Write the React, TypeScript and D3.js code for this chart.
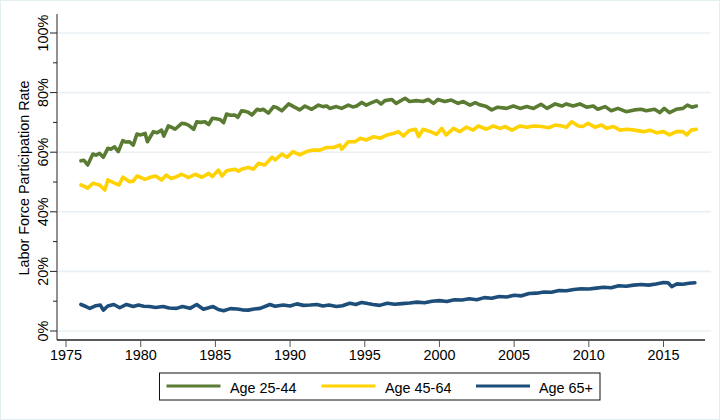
import React from "react";
import * as d3 from "d3";

type Pt = [number, number];

const xTicks = [1975, 1980, 1985, 1990, 1995, 2000, 2005, 2010, 2015];
const yMajor = [0, 20, 40, 60, 80, 100];
const yMinor = [10, 30, 50, 70, 90];
const seriesNames = ["Age 25-44", "Age 45-64", "Age 65+"];
const seriesColors = ["#5a7b32", "#ffd200", "#1d4e7a"];

const age2544: Pt[] = [
  [1976.0, 57.1], [1976.2, 57.3], [1976.45, 55.7], [1976.8, 59.4], [1977.0, 59.0], [1977.25, 59.6],
  [1977.5, 58.3], [1977.8, 61.3], [1978.0, 61.0], [1978.25, 61.8], [1978.5, 60.2], [1978.8, 63.9],
  [1979.0, 63.4], [1979.25, 63.5], [1979.5, 62.4], [1979.75, 66.1], [1980.0, 65.8], [1980.3, 66.3],
  [1980.45, 63.5], [1980.85, 66.9], [1981.1, 66.5], [1981.4, 67.4], [1981.55, 65.4], [1981.85, 68.8],
  [1982.1, 68.3], [1982.3, 67.7], [1982.75, 69.7], [1983.0, 69.5], [1983.2, 69.1], [1983.55, 67.7],
  [1983.75, 70.2], [1984.0, 70.0], [1984.3, 70.2], [1984.55, 69.3], [1984.8, 71.4], [1985.05, 71.2],
  [1985.3, 71.0], [1985.55, 69.9], [1985.75, 72.8], [1986.0, 72.4], [1986.3, 72.5], [1986.5, 71.7],
  [1986.75, 73.9], [1987.0, 73.7], [1987.2, 73.4], [1987.45, 72.5], [1987.8, 74.4], [1988.0, 74.1],
  [1988.2, 74.4], [1988.55, 73.1], [1988.9, 75.3], [1989.1, 75.0], [1989.45, 73.9], [1989.9, 76.2],
  [1990.3, 75.1], [1990.65, 74.2], [1991.0, 75.5], [1991.45, 74.4], [1991.9, 75.8], [1992.2, 75.3],
  [1992.45, 75.5], [1992.65, 74.7], [1993.1, 75.3], [1993.45, 74.7], [1993.9, 75.8], [1994.2, 75.2],
  [1994.45, 75.5], [1994.8, 76.7], [1995.1, 75.8], [1995.35, 76.4], [1995.8, 77.3], [1996.1, 76.2],
  [1996.35, 77.3], [1996.8, 77.7], [1997.1, 76.4], [1997.7, 78.1], [1998.0, 77.0], [1998.45, 77.3],
  [1998.9, 77.0], [1999.25, 77.7], [1999.6, 76.4], [1999.9, 77.7], [2000.35, 77.0], [2000.8, 77.5],
  [2001.25, 76.4], [2001.6, 77.0], [2002.05, 75.8], [2002.4, 76.6], [2002.7, 75.9], [2003.15, 75.3],
  [2003.5, 74.2], [2003.9, 75.1], [2004.5, 74.7], [2004.95, 75.5], [2005.4, 74.7], [2005.85, 75.3],
  [2006.3, 74.7], [2006.8, 76.1], [2007.2, 74.7], [2007.75, 76.2], [2008.2, 75.5], [2008.5, 76.2],
  [2008.95, 75.5], [2009.4, 76.2], [2009.85, 75.1], [2010.3, 75.5], [2010.6, 74.4], [2011.1, 75.3],
  [2011.5, 73.9], [2011.95, 74.7], [2012.5, 73.6], [2013.05, 74.2], [2013.5, 74.4], [2013.85, 73.9],
  [2014.4, 74.4], [2014.75, 73.3], [2015.05, 74.7], [2015.4, 73.3], [2015.85, 74.4], [2016.3, 74.7],
  [2016.6, 75.8], [2016.9, 75.1], [2017.2, 75.5],
];

const age4564: Pt[] = [
  [1976.0, 49.0], [1976.2, 48.6], [1976.45, 47.9], [1976.8, 49.6], [1977.0, 49.3], [1977.25, 49.0],
  [1977.6, 47.3], [1977.8, 50.7], [1978.0, 50.2], [1978.25, 49.6], [1978.55, 49.0], [1978.8, 51.6],
  [1979.0, 51.0], [1979.25, 50.1], [1979.5, 50.3], [1979.75, 52.0], [1980.0, 51.5], [1980.3, 50.9],
  [1980.65, 51.6], [1981.0, 52.0], [1981.4, 50.7], [1981.7, 52.3], [1982.05, 51.2], [1982.4, 51.8],
  [1982.75, 52.6], [1983.2, 51.5], [1983.65, 52.6], [1984.1, 51.6], [1984.55, 52.9], [1984.8, 51.8],
  [1985.2, 54.0], [1985.45, 52.0], [1985.75, 53.8], [1986.3, 54.3], [1986.55, 53.6], [1986.75, 54.3],
  [1987.2, 54.9], [1987.55, 54.3], [1987.9, 56.3], [1988.3, 55.7], [1988.8, 58.3], [1989.0, 57.4],
  [1989.45, 59.4], [1989.8, 58.3], [1990.2, 60.2], [1990.65, 59.1], [1991.1, 60.2], [1991.55, 60.7],
  [1992.0, 60.7], [1992.45, 61.6], [1992.9, 61.6], [1993.35, 62.4], [1993.45, 61.0], [1993.9, 63.5],
  [1994.35, 63.5], [1994.7, 64.7], [1995.1, 64.1], [1995.6, 65.2], [1996.05, 64.7], [1996.5, 65.8],
  [1996.9, 66.3], [1997.25, 66.9], [1997.6, 65.4], [1997.95, 67.2], [1998.4, 67.7], [1998.6, 65.2],
  [1998.9, 67.7], [1999.4, 66.9], [1999.8, 66.0], [2000.15, 68.0], [2000.45, 65.8], [2000.95, 68.0],
  [2001.35, 66.9], [2001.8, 68.4], [2002.25, 67.4], [2002.6, 68.8], [2003.15, 67.7], [2003.6, 68.8],
  [2004.05, 68.0], [2004.4, 68.6], [2004.85, 67.4], [2005.4, 68.8], [2005.85, 68.4], [2006.3, 68.8],
  [2006.85, 68.6], [2007.3, 68.2], [2007.75, 69.1], [2008.2, 68.8], [2008.5, 68.4], [2008.85, 70.2],
  [2009.3, 68.8], [2009.6, 68.6], [2009.95, 69.7], [2010.4, 68.4], [2010.85, 69.1], [2011.2, 68.0],
  [2011.65, 68.6], [2012.1, 67.4], [2012.55, 67.7], [2013.05, 67.4], [2013.65, 66.9], [2014.1, 67.4],
  [2014.55, 66.5], [2015.0, 66.9], [2015.4, 65.8], [2015.85, 66.9], [2016.3, 66.9], [2016.55, 65.8],
  [2016.85, 67.4], [2017.2, 67.7],
];

const age65: Pt[] = [
  [1976.0, 8.9], [1976.3, 8.3], [1976.6, 7.6], [1977.0, 8.5], [1977.3, 8.7], [1977.5, 7.0],
  [1977.8, 8.4], [1978.2, 8.9], [1978.6, 7.8], [1979.05, 8.9], [1979.5, 8.2], [1979.85, 8.7],
  [1980.2, 8.3], [1980.6, 8.2], [1981.0, 7.9], [1981.5, 8.2], [1981.9, 7.7], [1982.4, 7.6],
  [1982.8, 8.2], [1983.3, 7.6], [1983.75, 8.9], [1984.2, 7.3], [1984.85, 8.2], [1985.2, 7.2],
  [1985.55, 6.8], [1986.0, 7.5], [1986.45, 7.4], [1986.8, 7.1], [1987.2, 7.0], [1987.6, 7.4],
  [1988.0, 7.6], [1988.65, 8.9], [1989.0, 8.3], [1989.55, 8.7], [1990.0, 8.4], [1990.45, 9.1],
  [1990.9, 8.6], [1991.35, 8.7], [1991.8, 8.9], [1992.2, 8.4], [1992.6, 8.7], [1993.1, 8.2],
  [1993.5, 8.5], [1994.0, 9.3], [1994.4, 8.9], [1994.8, 9.6], [1995.2, 9.2], [1995.55, 8.9],
  [1996.0, 8.6], [1996.5, 9.3], [1997.0, 9.0], [1997.5, 9.2], [1998.0, 9.4], [1998.5, 9.7],
  [1999.0, 9.5], [1999.5, 10.0], [2000.0, 10.2], [2000.5, 9.9], [2001.0, 10.5], [2001.5, 10.4],
  [2002.0, 10.8], [2002.5, 10.5], [2003.0, 11.2], [2003.5, 11.0], [2004.0, 11.6], [2004.5, 11.4],
  [2005.0, 12.0], [2005.5, 11.8], [2006.0, 12.6], [2006.5, 12.7], [2007.0, 13.1], [2007.5, 13.0],
  [2008.0, 13.6], [2008.5, 13.5], [2009.0, 13.9], [2009.5, 14.2], [2010.0, 14.1], [2010.5, 14.4],
  [2011.0, 14.7], [2011.5, 14.5], [2012.0, 15.2], [2012.5, 15.0], [2013.0, 15.4], [2013.5, 15.6],
  [2014.0, 15.4], [2014.5, 15.8], [2015.0, 16.3], [2015.3, 16.2], [2015.55, 14.9], [2015.9, 15.8],
  [2016.3, 15.7], [2016.7, 16.0], [2017.1, 16.2],
];

const allSeries = [age2544, age4564, age65];

const W = 720;
const H = 420;
const FONT = "'Liberation Sans', Arial, Helvetica, sans-serif";
const FS = 14.4;

export default function App() {
  const x = d3.scaleLinear().domain([1975, 2015]).range([66, 663.5]);
  const y = d3.scaleLinear().domain([0, 100]).range([331, 33]);
  const axisLeft = 57;
  const axisBottom = 340;
  const line = d3
    .line<Pt>()
    .x((d) => x(d[0]))
    .y((d) => y(d[1]))
    .curve(d3.curveLinear);

  const legendItems = [
    { x0: 166.5, tx: 230 },
    { x0: 321.5, tx: 385 },
    { x0: 476, tx: 539 },
  ];

  return (
    <svg
      width={W}
      height={H}
      style={{ position: "absolute", left: 0, top: 0, background: "#fff" }}
      fontFamily={FONT}
    >
      <rect x={0.5} y={0.5} width={W - 1} height={H - 1} fill="#fff" stroke="#e4edf0" strokeWidth={1} />
      {/* grid */}
      {yMajor.map((v) => (
        <line key={"g" + v} x1={axisLeft} x2={711} y1={y(v)} y2={y(v)} stroke="#eaf0f3" strokeWidth={1.6} />
      ))}
      {/* series */}
      {allSeries.map((s, i) => (
        <path
          key={"s" + i}
          d={line(s) || ""}
          fill="none"
          stroke={seriesColors[i]}
          strokeWidth={3.6}
          strokeLinejoin="round"
          strokeLinecap="round"
        />
      ))}
      {/* y axis */}
      <line x1={axisLeft} x2={axisLeft} y1={14} y2={axisBottom} stroke="#777" strokeWidth={1.6} />
      {yMajor.map((v) => (
        <g key={"yt" + v}>
          <line x1={axisLeft - 7} x2={axisLeft} y1={y(v)} y2={y(v)} stroke="#222" strokeWidth={1} />
          <text
            transform={`translate(48,${y(v)}) rotate(-90)`}
            textAnchor="middle"
            fontSize={FS}
            fill="#000"
          >
            {v + "%"}
          </text>
        </g>
      ))}
      {yMinor.map((v) => (
        <line key={"ym" + v} x1={axisLeft - 4} x2={axisLeft} y1={y(v)} y2={y(v)} stroke="#222" strokeWidth={1} />
      ))}
      <text
        transform={`translate(28.5,${(y(0) + y(100)) / 2 - 4}) rotate(-90)`}
        textAnchor="middle"
        fontSize={FS}
        fill="#000"
      >
        Labor Force Participation Rate
      </text>
      {/* x axis */}
      <line x1={axisLeft} x2={705} y1={axisBottom} y2={axisBottom} stroke="#222" strokeWidth={1.4} />
      {xTicks.map((t) => (
        <g key={"xt" + t}>
          <line x1={x(t)} x2={x(t)} y1={axisBottom} y2={axisBottom + 7} stroke="#555" strokeWidth={1} />
          <text x={x(t)} y={360} textAnchor="middle" fontSize={FS} fill="#000">
            {t}
          </text>
        </g>
      ))}
      {/* legend */}
      <rect x={159.5} y={373} width={440.5} height={27} fill="#fff" stroke="#111" strokeWidth={1} />
      {legendItems.map((it, i) => (
        <g key={"lg" + i}>
          <line x1={it.x0} x2={it.x0 + 54} y1={386} y2={386} stroke={seriesColors[i]} strokeWidth={3.2} />
          <text x={it.tx} y={392.5} fontSize={FS} fill="#000">
            {seriesNames[i]}
          </text>
        </g>
      ))}
    </svg>
  );
}
